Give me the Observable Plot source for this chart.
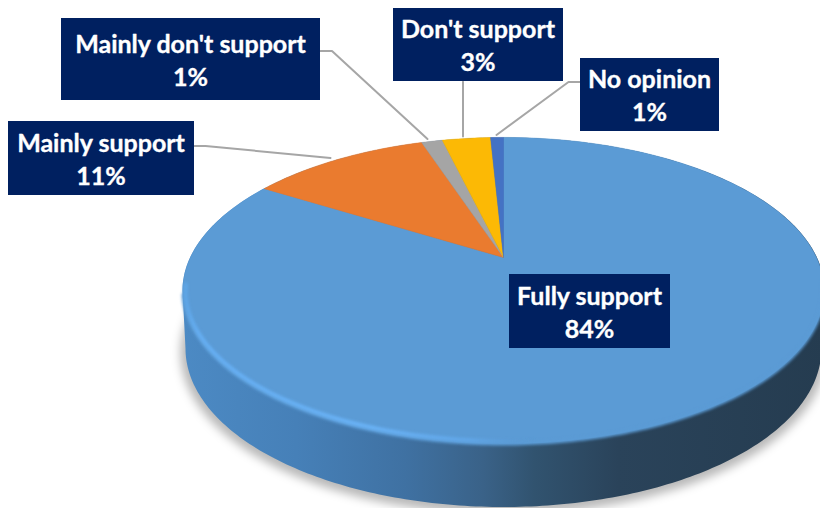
<!DOCTYPE html>
<html>
<head>
<meta charset="utf-8">
<script src="https://cdn.jsdelivr.net/npm/d3@7"></script>
<script src="https://cdn.jsdelivr.net/npm/@observablehq/plot@0.6"></script>
<style>
html,body{margin:0;padding:0;background:#fff}
svg{display:block}
</style>
</head>
<body>
<div id="chart"></div>
<script>
// Data (clockwise from twelve o'clock)
const categories = ["Fully support", "Mainly support", "Mainly don't support", "Don't support", "No opinion"];
const values = [83.8, 11.1, 1.3, 3.0, 0.8];

// Colours
const sliceColors = ["#5b9bd5", "#ea7b2f", "#a5a5a5", "#fcb905", "#4472c4"];
const boxColor = "#002060";
const leaderColor = "#a6a6a6";

// Layout, in page pixels: label boxes and leader lines
const boxes = [
  {x1: 509, x2: 670, y1: 274, y2: 348},
  {x1: 8, x2: 194, y1: 121, y2: 195},
  {x1: 61, x2: 320, y1: 18, y2: 100},
  {x1: 393, x2: 563, y1: 8, y2: 81},
  {x1: 580, x2: 719, y1: 58, y2: 131}
];
const leaders = [
  [],
  [[194, 145.5], [205, 145.5], [330, 157.5]],
  [[320, 50.5], [331.5, 50.5], [427, 138.5]],
  [[462.5, 81], [462.5, 136]],
  [[580, 81.5], [568, 81.5], [496, 134.5]]
];

// Perspective of the pie: a disc seen from above, its centre at (cx, cy)
const cx = 503, cy = 257, k = 0.2157, R = 313, S = 146;
const project = (t) => {
  const u = Math.sin(t), v = -Math.cos(t), w = 1 - k * v;
  return {x: cx + R * u / w, y: cy + S * v / w};
};
const total = d3.sum(values);
const cum = d3.cumsum(values);
const slicePts = (i) => {
  const a0 = (i ? cum[i - 1] : 0) / total * 2 * Math.PI;
  const a1 = cum[i] / total * 2 * Math.PI;
  const n = Math.max(3, Math.ceil((a1 - a0) * 60));
  const pts = [{x: cx, y: cy}];
  for (let j = 0; j <= n; j++) pts.push(project(a0 + (a1 - a0) * j / n));
  pts.push({x: cx, y: cy});
  return pts;
};

// Ellipses of the top face and the base
const topE = {cx: 503, cy: 290, rx: 321, ry: 153};
const baseE = {cx: 503, cy: 348, rx: 318, ry: 158.5};
const arc = (e, a0, a1, n = 180) => d3.range(n + 1).map((j) => {
  const a = a0 + (a1 - a0) * j / n;
  return {x: e.cx + e.rx * Math.cos(a), y: e.cy + e.ry * Math.sin(a)};
});
const sidePts = [...arc(topE, Math.PI, 2 * Math.PI), ...arc(baseE, 0, Math.PI)];
const frontEdge = arc({...topE, rx: topE.rx - 1, ry: topE.ry}, Math.PI - 0.03, -0.05);
const rimEdge = arc({...topE, rx: topE.rx - 3, ry: topE.ry - 2.5}, Math.PI + 0.04, 0);
const shadowPts = arc({...baseE, cy: baseE.cy + 4, rx: baseE.rx + 5, ry: baseE.ry + 3}, 0, 2 * Math.PI);

const defs = () => {
  const d = d3.create("svg:defs");
  const grad = (id, stops) => {
    const g = d.append("linearGradient").attr("id", id)
      .attr("gradientUnits", "userSpaceOnUse")
      .attr("x1", 180).attr("x2", 824).attr("y1", 0).attr("y2", 0);
    stops.forEach(([o, c, a]) => g.append("stop").attr("offset", o).attr("stop-color", c).attr("stop-opacity", a ?? 1));
  };
  grad("side", [[0, "#4c8ac4"], [0.18, "#4680b8"], [0.35, "#3f71a2"], [0.47, "#3a6288"], [0.55, "#31536f"], [0.68, "#2a435a"], [1, "#253c50"]]);
  grad("rim", [[0, "#5ca3e3"], [0.03, "#66aff3"], [0.3, "#6ab3f7"], [0.45, "#62a8ea", 0.9], [0.55, "#5b9bd5", 0]]);
  return d.node();
};

const xy = {x: "x", y: "y"};
const chart = Plot.plot({
  width: 820,
  height: 508,
  margin: 0,
  style: {background: "#fff"},
  x: {domain: [0, 820], range: [0, 820], axis: null},
  y: {domain: [0, 508], range: [0, 508], axis: null},
  marks: [
    defs,
    Plot.line(shadowPts, {...xy, fill: "#000", stroke: "none", fillOpacity: 0.28, imageFilter: "blur(5px)"}),
    Plot.line(sidePts, {...xy, fill: "url(#side)", stroke: "none"}),
    ...categories.map((c, i) => Plot.line(slicePts(i), {...xy, fill: sliceColors[i], stroke: sliceColors[i], strokeWidth: 0.5})),
    Plot.line(frontEdge, {...xy, stroke: sliceColors[0], strokeWidth: 4, imageFilter: "blur(1.5px)"}),
    Plot.line(rimEdge, {...xy, stroke: "url(#rim)", strokeWidth: 4, imageFilter: "blur(1.5px)"}),
    ...leaders.filter((l) => l.length).map((l) => Plot.line(l, {x: (d) => d[0], y: (d) => d[1], stroke: leaderColor, strokeWidth: 2})),
    Plot.rect(boxes, {x1: "x1", x2: "x2", y1: "y1", y2: "y2", fill: boxColor, inset: 0}),
    Plot.text(categories, {
      x: (d, i) => (boxes[i].x1 + boxes[i].x2) / 2 - 0.5,
      y: (d, i) => (boxes[i].y1 + boxes[i].y2) / 2 - 1,
      text: (d, i) => `${d}\n${Math.round(values[i])}%`,
      fill: "#fff",
      stroke: "#fff",
      strokeWidth: 0.35,
      fontFamily: "Lato",
      fontWeight: 700,
      fontSize: 25,
      lineHeight: 1.32,
      textAnchor: "middle"
    })
  ]
});
document.getElementById("chart").append(chart);
</script>
</body>
</html>
